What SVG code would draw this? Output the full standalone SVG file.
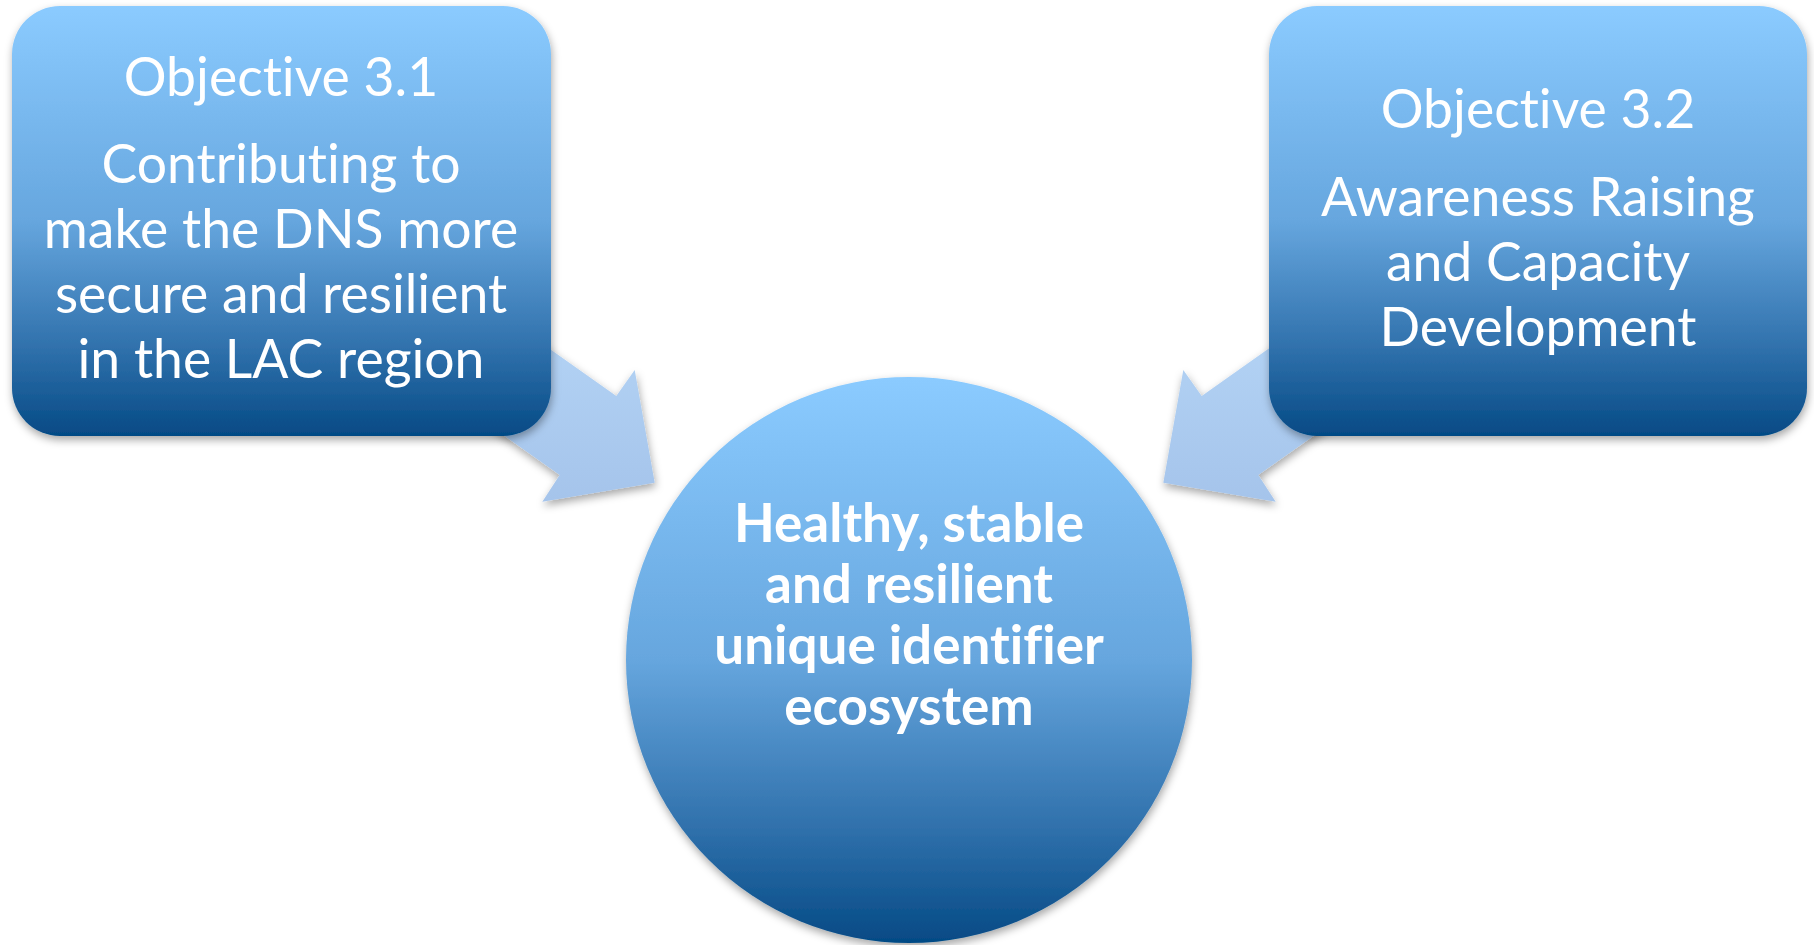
<svg xmlns="http://www.w3.org/2000/svg" width="1814" height="945" viewBox="0 0 1814 945">
<style>
.obj{font-family:Lato,"Open Sans",sans-serif;font-size:53.5px;fill:#fff;text-anchor:middle;font-variant-ligatures:none}
.goal{font-family:Lato,"Open Sans",sans-serif;font-size:53px;font-weight:bold;fill:#fff;text-anchor:middle;font-variant-ligatures:none}
</style>
<defs>
<linearGradient id="blue" x1="0" y1="0" x2="0" y2="1">
<stop offset="0" stop-color="#8BCBFF"/>
<stop offset="0.5" stop-color="#66A6DE"/>
<stop offset="0.8" stop-color="#2F70AB"/>
<stop offset="1" stop-color="#054A85"/>
</linearGradient>
<linearGradient id="arrowFill" x1="0" y1="0" x2="0" y2="1">
<stop offset="0" stop-color="#B5D5F6"/>
<stop offset="1" stop-color="#A5C4EB"/>
</linearGradient>
<filter id="shadow" x="-10%" y="-10%" width="120%" height="125%">
<feDropShadow dx="1" dy="4" stdDeviation="4" flood-color="#000" flood-opacity="0.35"/>
</filter>
</defs>
<rect width="1814" height="945" fill="#fff"/>
<g id="connectors">
<polygon fill="url(#arrowFill)" filter="url(#shadow)" points="493.8,309.4 616.3,396 634.7,370 654.7,482.7 542.3,501.7 559.7,475 437.2,388.4"/>
<polygon fill="url(#arrowFill)" filter="url(#shadow)" points="1324.2,309.4 1201.7,396 1183.3,370 1163.3,482.7 1275.7,501.7 1258.3,475 1380.8,388.4"/>
</g>
<g id="objective-3-1">
<rect x="12" y="6" width="539" height="430" rx="48" fill="url(#blue)" filter="url(#shadow)"/>
<text class="obj" x="281" y="96">Objective 3.1</text>
<text class="obj" x="281" y="183">Contributing to</text>
<text class="obj" x="281" y="248">make the DNS more</text>
<text class="obj" x="281" y="313">secure and resilient</text>
<text class="obj" x="281" y="378">in the LAC region</text>
</g>
<g id="objective-3-2">
<rect x="1269" y="6" width="538" height="430" rx="48" fill="url(#blue)" filter="url(#shadow)"/>
<text class="obj" x="1538" y="128">Objective 3.2</text>
<text class="obj" x="1538" y="216">Awareness Raising</text>
<text class="obj" x="1538" y="281">and Capacity</text>
<text class="obj" x="1538" y="346">Development</text>
</g>
<g id="goal">
<circle cx="909" cy="660" r="283" fill="url(#blue)" filter="url(#shadow)"/>
<text class="goal" x="909" y="542">Healthy, stable</text>
<text class="goal" x="909" y="603">and resilient</text>
<text class="goal" x="909" y="664">unique identifier</text>
<text class="goal" x="909" y="725">ecosystem</text>
</g>
</svg>
